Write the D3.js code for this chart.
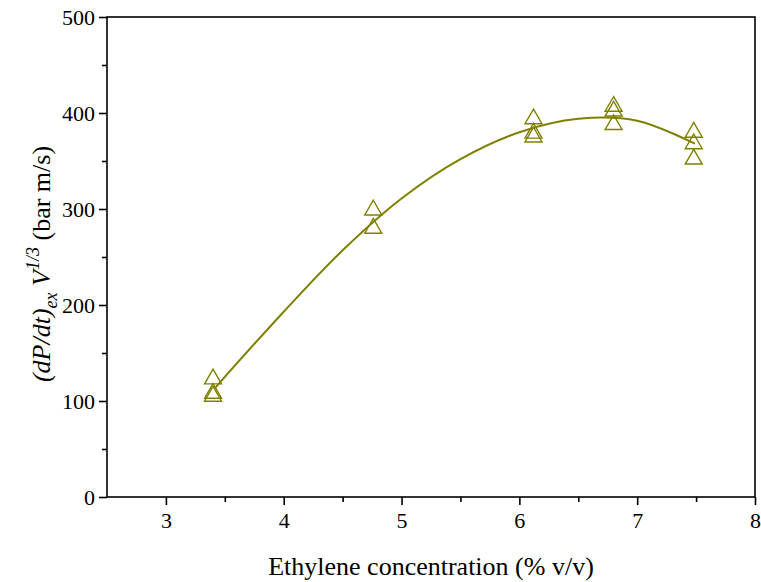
<!DOCTYPE html>
<html>
<head>
<meta charset="utf-8">
<script src="https://cdn.jsdelivr.net/npm/d3@7"></script>
<style>
  body { margin: 0; background: #fff; }
  svg text { font-family: "Liberation Serif", "DejaVu Serif", "Times New Roman", Times, serif; }
</style>
</head>
<body>
<div id="chart"></div>
<script>
// measured points, x = ethylene % v/v, y = (dP/dt) V^1/3
const conc = [3.4, 3.4, 3.4, 4.76, 4.76, 6.12, 6.12, 6.12, 6.8, 6.8, 6.8, 7.48, 7.48, 7.48];
const rate = [125, 110, 107, 301, 282, 396, 381, 377, 409, 404, 390, 382, 370, 354];

// fitted curve
const fitX = [3.42, 4.0, 4.5, 5.0, 5.5, 6.0, 6.5, 7.0, 7.49];
const fitY = [114, 193, 257, 311, 352, 380, 394, 392, 368];

const xTicks = [3, 4, 5, 6, 7, 8];
const yTicks = [0, 100, 200, 300, 400, 500];

const width = 761, height = 582;
const margin = { top: 17, right: 6, bottom: 85, left: 107 };
const color = '#808000';
const serif = '"Liberation Serif", "DejaVu Serif", "Times New Roman", Times, serif';

const svg = d3.select('#chart').append('svg')
  .attr('width', width)
  .attr('height', height);

const x = d3.scaleLinear()
  .domain([2.5, 8])
  .range([margin.left, width - margin.right]);

const y = d3.scaleLinear()
  .domain([0, 500])
  .range([height - margin.bottom, margin.top]);

// frame
svg.append('rect')
  .attr('x', x(2.5))
  .attr('y', y(500))
  .attr('width', x(8) - x(2.5))
  .attr('height', y(0) - y(500))
  .attr('fill', 'none')
  .attr('stroke', '#000')
  .attr('stroke-width', 1.6);

// minor ticks first, then major with labels
const xMinor = d3.axisBottom(x).tickValues(d3.range(3.5, 8, 1)).tickSize(5).tickFormat('');
const yMinor = d3.axisLeft(y).tickValues(d3.range(50, 500, 100)).tickSize(5).tickFormat('');

function styleAxis(g) {
  g.attr('font-family', serif).attr('font-size', 22);
  g.select('.domain').remove();
  g.selectAll('.tick line').attr('stroke', '#000').attr('stroke-width', 1.6);
  g.selectAll('.tick text').attr('fill', '#000');
}

svg.append('g')
  .attr('transform', `translate(0,${y(0)})`)
  .call(xMinor)
  .call(styleAxis);

svg.append('g')
  .attr('transform', `translate(${x(2.5)},0)`)
  .call(yMinor)
  .call(styleAxis);

svg.append('g')
  .attr('transform', `translate(0,${y(0)})`)
  .call(d3.axisBottom(x).tickValues(xTicks).tickSize(8).tickPadding(7).tickFormat(d3.format('d')))
  .call(styleAxis);

svg.append('g')
  .attr('transform', `translate(${x(2.5)},0)`)
  .call(d3.axisLeft(y).tickValues(yTicks).tickSize(8).tickPadding(4).tickFormat(d3.format('d')))
  .call(styleAxis);

// fit line
const fit = fitX.map((d, i) => [d, fitY[i]]);
svg.append('path')
  .datum(fit)
  .attr('fill', 'none')
  .attr('stroke', color)
  .attr('stroke-width', 2)
  .attr('d', d3.line()
    .x((d) => x(d[0]))
    .y((d) => y(d[1]))
    .curve(d3.curveCatmullRom.alpha(0.5)));

// open triangles
const tri = d3.symbol().type(d3.symbolTriangle).size(125);
svg.append('g')
  .selectAll('path')
  .data(conc.map((d, i) => [d, rate[i]]))
  .join('path')
  .attr('d', tri)
  .attr('transform', (d) => `translate(${x(d[0])},${y(d[1]) + 2})`)
  .attr('fill', 'none')
  .attr('stroke', color)
  .attr('stroke-width', 1.4);

// axis titles
svg.append('text')
  .attr('x', (x(2.5) + x(8)) / 2)
  .attr('y', 575)
  .attr('text-anchor', 'middle')
  .attr('font-family', serif)
  .attr('font-size', 26)
  .text('Ethylene concentration (% v/v)');

const yTitle = svg.append('text')
  .attr('transform', `translate(50,${(y(0) + y(500)) / 2 + 7}) rotate(-90)`)
  .attr('text-anchor', 'middle')
  .attr('font-family', serif)
  .attr('font-size', 26);

yTitle.append('tspan').attr('font-style', 'italic').text('(dP/dt)');
yTitle.append('tspan').attr('font-style', 'italic').attr('font-size', 18)
  .attr('dy', 7).text('ex');
yTitle.append('tspan').attr('font-style', 'italic')
  .attr('dy', -7).text('\u00a0V');
yTitle.append('tspan').attr('font-style', 'italic').attr('font-size', 18)
  .attr('dy', -11).text('1/3');
yTitle.append('tspan')
  .attr('dy', 11).text('\u00a0(bar m/s)');
</script>
</body>
</html>
